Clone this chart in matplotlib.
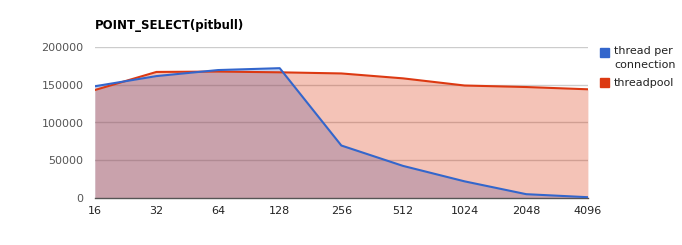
import matplotlib
matplotlib.use('Agg')
import matplotlib.pyplot as plt
import numpy as np

# valores
threads = ['16', '32', '64', '128', '256', '512', '1024', '2048', '4096']
per_connection = [148000, 161500, 169500, 172000, 69500, 42500, 22000, 5000, 1000]
threadpool = [143000, 167000, 167500, 166500, 165000, 158500, 149000, 147000, 144000]

blue = '#3366cc'
red = '#dc3912'

fig = plt.figure(figsize=(6.82, 2.45), dpi=100)
ax = fig.add_axes([0.139, 0.192, 0.723, 0.616])

x = np.arange(len(threads))

# grid debajo de las areas
for v in [50000, 100000, 150000, 200000]:
    ax.axhline(v, color='#cccccc', lw=1, zorder=0)

ax.fill_between(x, per_connection, color=blue, alpha=0.3, lw=0, zorder=1)
ax.fill_between(x, threadpool, color=red, alpha=0.3, lw=0, zorder=2)
ax.plot(x, threadpool, color=red, lw=1.5, zorder=3)
ax.plot(x, per_connection, color=blue, lw=1.5, zorder=4)

ax.set_xlim(0, len(threads) - 1)
ax.set_ylim(0, 200000)
ax.set_xticks(x)
ax.set_xticklabels(threads)
ax.set_yticks([0, 50000, 100000, 150000, 200000])
ax.set_yticklabels(['0', '50000', '100000', '150000', '200000'])
ax.tick_params(length=0, labelsize=8, colors='#555555', pad=8)
ax.tick_params(axis='x', pad=6, colors='#222222')

for s in ['top', 'right', 'left']:
    ax.spines[s].set_visible(False)
ax.spines['bottom'].set_color('#555555')
ax.spines['bottom'].set_linewidth(1)

fig.text(95 / 682, 1 - 25 / 245, 'POINT_SELECT(pitbull)', fontsize=8.5,
         fontweight='bold', va='center', ha='left')

# leyenda a mano
fig.patches.append(plt.Rectangle((600 / 682, 1 - 57 / 245), 9 / 682, 9 / 245,
                                 transform=fig.transFigure, color=blue))
fig.text(614 / 682, 1 - 46 / 245, 'thread per\nconnection', fontsize=8,
         va='top', ha='left', color='#222222', linespacing=1.45)
fig.patches.append(plt.Rectangle((600 / 682, 1 - 87 / 245), 9 / 682, 9 / 245,
                                 transform=fig.transFigure, color=red))
fig.text(614 / 682, 1 - 83 / 245, 'threadpool', fontsize=8,
         va='center', ha='left', color='#222222')

plt.savefig('out.png')
